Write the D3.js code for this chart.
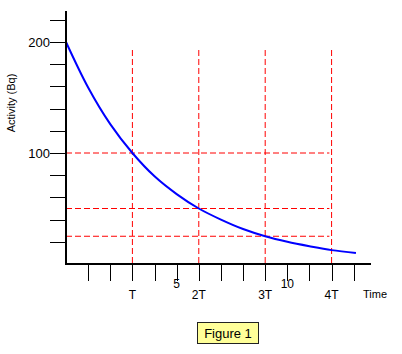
<!DOCTYPE html>
<html>
<head>
<meta charset="utf-8">
<script src="https://cdn.jsdelivr.net/npm/d3@7"></script>
<style>
  body { margin: 0; background: #fff; }
  svg { display: block; font-family: Arial, "Liberation Sans", sans-serif; }
</style>
</head>
<body>
<div id="chart"></div>
<script>
// decay curve, activity at each time unit
const times = [0, 1, 2, 3, 4, 5, 6, 7, 8, 9, 10, 11, 12, 13.1];
const activity = [200, 159, 126, 100, 79, 63, 50, 40, 31.5, 25, 20, 16, 12.5, 10];
// half-life markers
const halfLifeTimes = [3, 6, 9, 12];
const halfLifeLabels = ["T", "2T", "3T", "4T"];
const halfValues = [100, 50, 25];
const yTickValues = [20, 40, 60, 80, 100, 120, 140, 160, 180, 200, 220];
const yLabelValues = [100, 200];
const xNumberTicks = [5, 10];

const W = 402, H = 354;
const svg = d3.select("#chart").append("svg")
  .attr("width", W)
  .attr("height", H);

const x = d3.scaleLinear().domain([0, 13.6]).range([66, 367]);
const y = d3.scaleLinear().domain([0, 200]).range([264, 42]);

const data = times.map((t, i) => ({ t: t, a: activity[i] }));

// dashed guide lines
const dash = "6,3";
svg.selectAll(".hguide")
  .data(halfValues)
  .enter().append("line")
  .attr("x1", x(0))
  .attr("x2", x(11.9))
  .attr("y1", d => y(d))
  .attr("y2", d => y(d))
  .attr("stroke", "#ff0000")
  .attr("stroke-width", 1)
  .attr("stroke-dasharray", dash);

svg.selectAll(".vguide")
  .data(halfLifeTimes)
  .enter().append("line")
  .attr("x1", d => x(d))
  .attr("x2", d => x(d))
  .attr("y1", 50)
  .attr("y2", y(0))
  .attr("stroke", "#ff0000")
  .attr("stroke-width", 1)
  .attr("stroke-dasharray", dash);

// the curve
const line = d3.line()
  .x(d => x(d.t))
  .y(d => y(d.a))
  .curve(d3.curveCatmullRom);

svg.append("path")
  .datum(data)
  .attr("fill", "none")
  .attr("stroke", "#0000ff")
  .attr("stroke-width", 2)
  .attr("d", line);

// y axis
svg.append("line")
  .attr("x1", x(0)).attr("x2", x(0))
  .attr("y1", 11).attr("y2", y(0) + 1)
  .attr("stroke", "#000").attr("stroke-width", 2);

svg.selectAll(".ytick")
  .data(yTickValues)
  .enter().append("line")
  .attr("x1", x(0) - 16)
  .attr("x2", x(0))
  .attr("y1", d => Math.round(y(d)) + 0.5)
  .attr("y2", d => Math.round(y(d)) + 0.5)
  .attr("stroke", "#000");

svg.selectAll(".ylab")
  .data(yLabelValues)
  .enter().append("text")
  .attr("x", 50)
  .attr("y", d => y(d) + 5)
  .attr("text-anchor", "end")
  .style("font-size", "13px")
  .text(d => d);

svg.append("text")
  .attr("transform", `translate(15, 103) rotate(-90)`)
  .attr("text-anchor", "middle")
  .style("font-size", "11px")
  .text("Activity (Bq)");

// x axis
svg.append("line")
  .attr("x1", x(0) - 1).attr("x2", 371)
  .attr("y1", y(0)).attr("y2", y(0))
  .attr("stroke", "#000").attr("stroke-width", 2);

svg.selectAll(".xtick")
  .data(d3.range(1, 14))
  .enter().append("line")
  .attr("x1", d => Math.round(x(d)) + 0.5)
  .attr("x2", d => Math.round(x(d)) + 0.5)
  .attr("y1", y(0))
  .attr("y2", y(0) + 17)
  .attr("stroke", "#000");

svg.selectAll(".hlab")
  .data(halfLifeTimes)
  .enter().append("text")
  .attr("x", d => x(d))
  .attr("y", 299)
  .attr("text-anchor", "middle")
  .style("font-size", "12px")
  .text((d, i) => halfLifeLabels[i]);

svg.selectAll(".nlab")
  .data(xNumberTicks)
  .enter().append("text")
  .attr("x", d => x(d))
  .attr("y", 288)
  .attr("text-anchor", "middle")
  .style("font-size", "12px")
  .text(d => d);

svg.append("text")
  .attr("x", 363)
  .attr("y", 298)
  .style("font-size", "11px")
  .text("Time");

// caption box
svg.append("rect")
  .attr("x", 197.5).attr("y", 322.5)
  .attr("width", 61).attr("height", 21)
  .attr("fill", "#ffff99")
  .attr("stroke", "#222");

svg.append("text")
  .attr("x", 228)
  .attr("y", 337.5)
  .attr("text-anchor", "middle")
  .style("font-size", "13px")
  .text("Figure 1");
</script>
</body>
</html>
